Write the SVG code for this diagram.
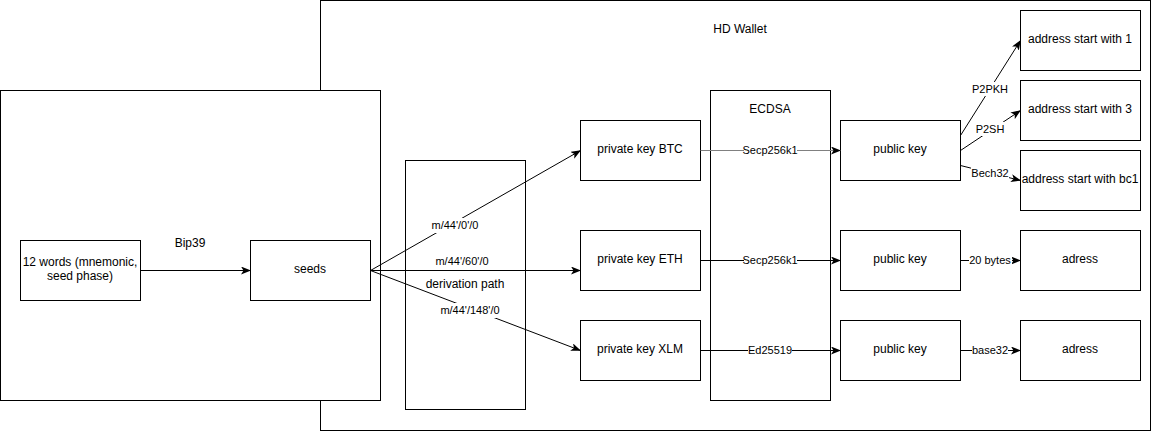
<svg xmlns="http://www.w3.org/2000/svg" width="1151" height="431" viewBox="0 0 1151 431">
<style>
.box{fill:#fff;stroke:#000;stroke-width:1}
.t{font-family:"Liberation Sans",Arial,sans-serif;font-size:12px;fill:#000;text-anchor:middle;dominant-baseline:central}
.el{font-family:"Liberation Sans",Arial,sans-serif;font-size:11px;fill:#000;text-anchor:middle;dominant-baseline:central}
.edge{fill:none;stroke:#000;stroke-width:1;marker-end:url(#arr)}
.lbg{fill:#fff}
</style>
<defs>
<marker id="arr" markerUnits="userSpaceOnUse" markerWidth="10" markerHeight="8" viewBox="0 0 10 8" refX="9.5" refY="4" orient="auto">
<path d="M0,0 L10,4 L0,8 L2.5,4 Z" fill="#000"/>
</marker>
</defs>
<rect width="1151" height="431" fill="#fff"/>
<g id="hd-wallet"><rect class="box" x="320.5" y="0.5" width="830" height="430"/><text class="t" x="740" y="29">HD Wallet</text></g>
<g id="bip39-group"><rect class="box" x="0.5" y="90.5" width="380" height="310"/><text class="t" x="190" y="243">Bip39</text></g>
<g id="derivation-path"><rect class="box" x="405.5" y="160.5" width="120" height="249"/><text class="t" x="465" y="284">derivation path</text></g>
<g id="ecdsa"><rect class="box" x="710.5" y="90.5" width="120" height="310"/><text class="t" x="770" y="109">ECDSA</text></g>
<g id="words"><rect class="box" x="20.5" y="240.5" width="120" height="60"/><text class="t" x="80" y="262">12 words (mnemonic,</text><text class="t" x="80" y="276">seed phase)</text></g>
<g id="seeds"><rect class="box" x="250.5" y="240.5" width="120" height="60"/><text class="t" x="310" y="269">seeds</text></g>
<g id="pk-btc"><rect class="box" x="580.5" y="120.5" width="120" height="60"/><text class="t" x="640" y="149">private key BTC</text></g>
<g id="pk-eth"><rect class="box" x="580.5" y="230.5" width="120" height="60"/><text class="t" x="640" y="259">private key ETH</text></g>
<g id="pk-xlm"><rect class="box" x="580.5" y="320.5" width="120" height="60"/><text class="t" x="640" y="349">private key XLM</text></g>
<g id="pub-btc"><rect class="box" x="840.5" y="120.5" width="120" height="60"/><text class="t" x="900" y="149">public key</text></g>
<g id="pub-eth"><rect class="box" x="840.5" y="230.5" width="120" height="60"/><text class="t" x="900" y="259">public key</text></g>
<g id="pub-xlm"><rect class="box" x="840.5" y="320.5" width="120" height="60"/><text class="t" x="900" y="349">public key</text></g>
<g id="addr1"><rect class="box" x="1020.5" y="10.5" width="120" height="60"/><text class="t" x="1080" y="39">address start with 1</text></g>
<g id="addr3"><rect class="box" x="1020.5" y="80.5" width="120" height="60"/><text class="t" x="1080" y="109">address start with 3</text></g>
<g id="addrbc1"><rect class="box" x="1020.5" y="150.5" width="120" height="60"/><text class="t" x="1080" y="179">address start with bc1</text></g>
<g id="addr-eth"><rect class="box" x="1020.5" y="230.5" width="120" height="60"/><text class="t" x="1080" y="259">adress</text></g>
<g id="addr-xlm"><rect class="box" x="1020.5" y="320.5" width="120" height="60"/><text class="t" x="1080" y="349">adress</text></g>
<g id="connectors">
<path class="edge" d="M140.5,270.5 L250.5,270.5"/>
<path class="edge" d="M370.5,270.5 L580.5,150.5"/>
<rect class="lbg" x="429" y="218" width="51" height="15"/><text class="el" x="455" y="225">m/44'/0'/0</text>
<path class="edge" d="M370.5,270.5 L580.5,270.5"/>
<text class="el" x="462" y="261">m/44'/60'/0</text>
<path class="edge" d="M370.5,270.5 L580.5,350.5"/>
<rect class="lbg" x="439" y="303" width="62" height="15"/><text class="el" x="470" y="310">m/44'/148'/0</text>
<path class="edge" d="M700.5,150.5 L840.5,150.5" style="stroke:#808080"/>
<rect class="lbg" x="744" y="143" width="53" height="15"/><text class="el" x="770" y="150">Secp256k1</text>
<path class="edge" d="M700.5,260.5 L840.5,260.5"/>
<rect class="lbg" x="744" y="253" width="53" height="15"/><text class="el" x="770" y="260">Secp256k1</text>
<path class="edge" d="M700.5,350.5 L840.5,350.5"/>
<rect class="lbg" x="748" y="343" width="44" height="15"/><text class="el" x="770" y="350">Ed25519</text>
<path class="edge" d="M960.5,135.5 L1020.5,40.5"/>
<rect class="lbg" x="972" y="82" width="35" height="14"/><text class="el" x="990" y="89">P2PKH</text>
<path class="edge" d="M960.5,150.5 L1020.5,110.5"/>
<rect class="lbg" x="976" y="122" width="28" height="14"/><text class="el" x="990" y="129">P2SH</text>
<path class="edge" d="M960.5,165.5 L1020.5,180.5"/>
<rect class="lbg" x="971" y="166" width="38" height="14"/><text class="el" x="990" y="173">Bech32</text>
<path class="edge" d="M960.5,260.5 L1020.5,260.5"/>
<rect class="lbg" x="969" y="253" width="43" height="15"/><text class="el" x="990" y="260">20 bytes</text>
<path class="edge" d="M960.5,350.5 L1020.5,350.5"/>
<rect class="lbg" x="972" y="343" width="36" height="15"/><text class="el" x="990" y="350">base32</text>
</g>
</svg>
